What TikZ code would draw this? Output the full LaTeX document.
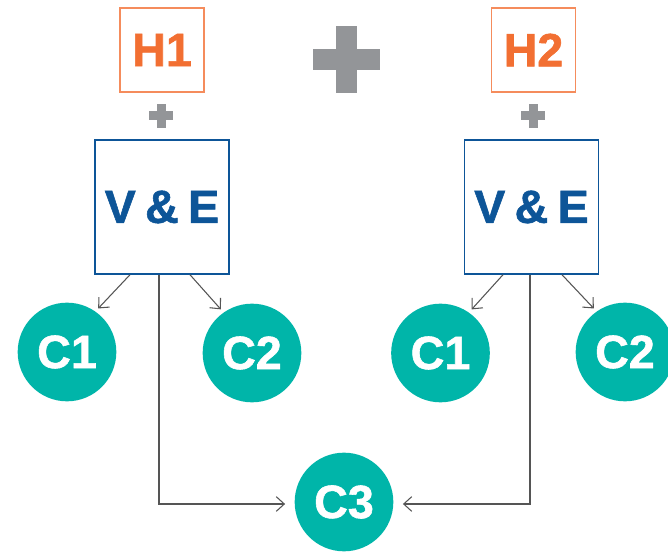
\documentclass[tikz,border=0pt]{standalone}
\usepackage{fontspec}
\setmainfont[BoldFeatures={FakeBold=1.2}]{Liberation Sans}
\usetikzlibrary{arrows.meta,calc,positioning}
\definecolor{horange}{HTML}{F26F32}
\definecolor{hborder}{HTML}{F58C5C}
\definecolor{veblue}{HTML}{0D5598}
\definecolor{cteal}{HTML}{00B5A9}
\definecolor{plusgrey}{HTML}{939598}
\definecolor{arrowgrey}{HTML}{555555}
\newcommand{\plusmark}[4]{%
  \fill[plusgrey] ({#1-#3/2},{#2-#4/2}) rectangle ({#1+#3/2},{#2+#4/2});
  \fill[plusgrey] ({#1-#4/2},{#2-#3/2}) rectangle ({#1+#4/2},{#2+#3/2});}
\begin{document}
\begin{tikzpicture}[x=0.75pt,y=-0.75pt]
                \tikzstyle{hbox} = [draw=hborder, line width=1pt, minimum size=63pt, inner sep=0pt, text=horange, font=\fontsize{35}{35}\selectfont\bfseries]
                \tikzstyle{vebox} = [draw=veblue, line width=1.1pt, minimum size=100.5pt, inner sep=0pt, text=veblue, font=\fontsize{35}{35}\selectfont\bfseries]
                \tikzstyle{cnode} = [circle, fill=cteal, minimum size=74pt, inner sep=0pt, text=white, font=\fontsize{35}{35}\selectfont\bfseries]
                \tikzstyle{pfeil} = [draw=arrowgrey, line width=0.8pt, -{Straight Barb[length=6pt,width=11pt]}]
                    \useasboundingbox (0,0) rectangle (668,552);

                    \node[hbox] (h1) at (162,50) {H1};
                    \node[hbox] (h2) at (533.5,50) {H2};
                    \node[vebox] (veL) at (162,207) {V\hspace{0.2em}\&\hspace{0.2em}E};
                    \node[vebox] (veR) at (531.5,207) {V\hspace{0.2em}\&\hspace{0.2em}E};

                    \node[cnode] (c1L) at (67,352) {C1};
                    \node[cnode] (c2L) at (252,353) {C2};
                    \node[cnode] (c1R) at (440.5,353) {C1};
                    \node[cnode] (c2R) at (625,352) {C2};
                    \node[cnode] (c3) at (344,502) {C3};

                    \plusmark{161}{116}{24}{9}
                    \plusmark{533}{116}{24}{9}
                    \plusmark{346.5}{60}{67}{21}

                    \draw[pfeil, shorten >=3pt] ($(veL.south)+(-32,0)$) -- (c1L.55);
                    \draw[pfeil, shorten >=3pt] ($(veL.south)+(28,0)$) -- (c2L.125);
                    \draw[pfeil, shorten >=3pt] ($(veR.south)+(-28.5,0)$) -- (c1R.55);
                    \draw[pfeil, shorten >=3pt] ($(veR.south)+(30.5,0)$) -- (c2R.125);
                    \draw[pfeil, shorten >=7pt] ($(veL.south)+(-3,0)$) |- ($(c3.west)+(0,2)$);
                    \draw[pfeil, shorten >=7pt] ($(veR.south)+(-1.5,0)$) |- ($(c3.east)+(0,2)$);

                \end{tikzpicture}
\end{document}
